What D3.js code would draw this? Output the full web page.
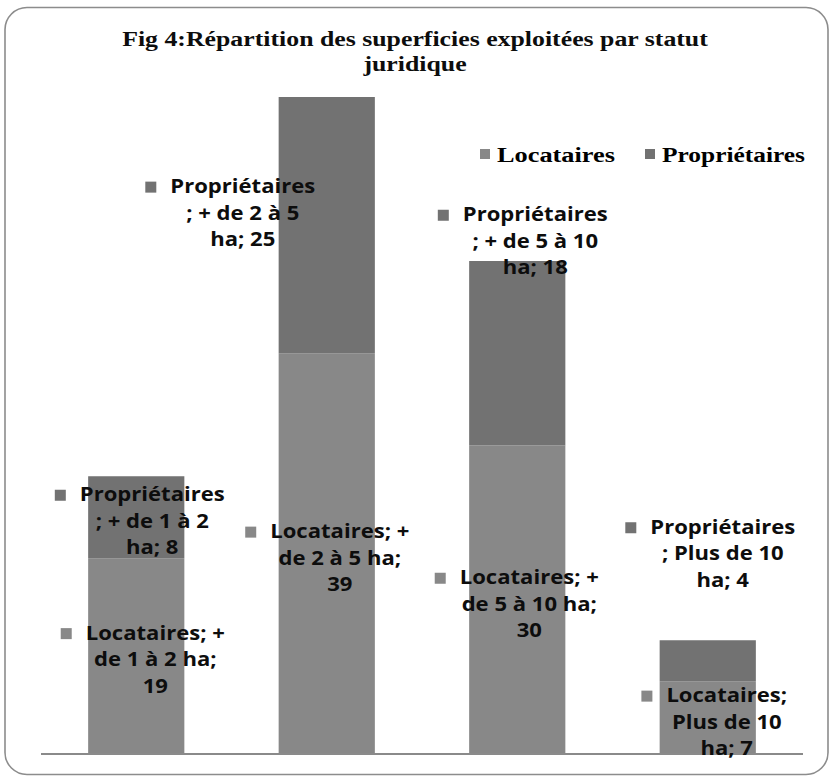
<!DOCTYPE html>
<html>
<head>
<meta charset="utf-8">
<script src="https://cdn.jsdelivr.net/npm/d3@7"></script>
<style>
  html, body { margin: 0; padding: 0; background: #fff; }
  svg { display: block; }
</style>
</head>
<body>
<script>
// Superficie classes and the two legal statuses, stacked per class
const categories = ["+ de 1 à 2 ha", "+ de 2 à 5 ha", "+ de 5 à 10 ha", "Plus de 10 ha"];
const locataires = [19, 39, 30, 7];
const proprietaires = [8, 25, 18, 4];
const seriesNames = ["Locataires", "Propriétaires"];
const titleLines = ["Fig 4:Répartition des superficies exploitées par statut", "juridique"];

// Data label text, line by line, as Excel wrapped them
const labelLines = {
  "Locataires": [
    ["Locataires; +", "de 1 à 2 ha;", "19"],
    ["Locataires; +", "de 2 à 5 ha;", "39"],
    ["Locataires; +", "de 5 à 10 ha;", "30"],
    ["Locataires;", "Plus de 10", "ha; 7"]
  ],
  "Propriétaires": [
    ["Propriétaires", "; + de 1 à 2", "ha; 8"],
    ["Propriétaires", "; + de 2 à 5", "ha; 25"],
    ["Propriétaires", "; + de 5 à 10", "ha; 18"],
    ["Propriétaires", "; Plus de 10", "ha; 4"]
  ]
};
// Offsets of each label block from its segment centre (px)
const labelOffsets = {
  "Locataires": [[19, 4], [13, 5], [12, 5], [19, 5]],
  "Propriétaires": [[16, 4], [-84, -12], [18, -112], [15, -107]]
};

const W = 831, H = 779;
const colors = { "Locataires": "#888888", "Propriétaires": "#727272" };
const serif = "'Liberation Serif', 'Times New Roman', serif";
const sans = "'Open Sans', 'Liberation Sans', sans-serif";

const svg = d3.select("body").append("svg").attr("width", W).attr("height", H);

// Rounded chart-area frame
svg.append("rect")
  .attr("x", 5).attr("y", 7.5).attr("width", 823).attr("height", 767)
  .attr("rx", 22).attr("ry", 22)
  .attr("fill", "#fff").attr("stroke", "#8c8c8c").attr("stroke-width", 1.6);

// Horizontally stretched text helper: stretch so the first line spans `target` px
function stretched(parent, cx, yTop, lines, font, size, weight, lineH, target) {
  const g = parent.append("g");
  const t = g.append("text")
    .attr("text-anchor", "middle")
    .style("font-family", font).style("font-weight", weight).style("font-size", size + "px")
    .attr("fill", "#0d0d0d");
  lines.forEach((ln, k) => t.append("tspan").attr("x", 0).attr("y", k * lineH).text(ln));
  const w0 = t.select("tspan").node().getComputedTextLength();
  const sx = target / w0;
  g.attr("transform", `translate(${cx},${yTop}) scale(${sx},1)`);
  return { sx, w: target };
}

// Title
stretched(svg, 415, 46, titleLines, serif, 21, "bold", 25, 586);

const baseY = 753;
const x = d3.scaleBand().domain(categories).range([41, 803]).paddingInner(0.495).paddingOuter(0.2475);
const y = d3.scaleLinear().domain([0, 64]).range([baseY, 97]);

const table = categories.map((c, i) => ({ cat: c, "Locataires": locataires[i], "Propriétaires": proprietaires[i] }));
const stacked = d3.stack().keys(seriesNames)(table);

svg.append("g").selectAll("g.series").data(stacked).join("g")
  .attr("class", "series")
  .attr("fill", d => colors[d.key])
  .selectAll("rect").data(d => d).join("rect")
  .attr("x", d => x(d.data.cat))
  .attr("width", x.bandwidth())
  .attr("y", d => y(d[1]))
  .attr("height", d => y(d[0]) - y(d[1]));

// Category axis line (no tick labels shown)
svg.append("line")
  .attr("x1", 41).attr("x2", 803).attr("y1", baseY + 1).attr("y2", baseY + 1)
  .attr("stroke", "#8a8a8a").attr("stroke-width", 2);

// Data labels with legend keys
const lineH = 26.5;
const labelSize = 19;
// stretch ratio measured on "Propriétaires" (145 px wide)
let labelScale = null;
{
  const probe = svg.append("text").style("font-family", sans).style("font-weight", "bold")
    .style("font-size", labelSize + "px").text("Propriétaires");
  labelScale = 145 / probe.node().getComputedTextLength();
  probe.remove();
}
stacked.forEach(s => {
  s.forEach((d, i) => {
    const lines = labelLines[s.key][i];
    const [dx, dy] = labelOffsets[s.key][i];
    const cx = x(d.data.cat) + x.bandwidth() / 2 + dx;
    const cy = (y(d[0]) + y(d[1])) / 2 + dy;
    const top = cy - lineH * (lines.length - 1) / 2;
    const g = svg.append("g").attr("transform", `translate(${cx},${top + 6.5}) scale(${labelScale},1)`);
    const t = g.append("text")
      .attr("text-anchor", "middle")
      .style("font-family", sans).style("font-weight", "bold").style("font-size", labelSize + "px")
      .attr("fill", "#0d0d0d");
    lines.forEach((ln, k) => t.append("tspan").attr("x", 0).attr("y", k * lineH).text(ln));
    const w = t.select("tspan").node().getComputedTextLength() * labelScale;
    svg.append("rect")
      .attr("x", cx - w / 2 - 25).attr("y", top - 5)
      .attr("width", 11).attr("height", 11)
      .attr("fill", colors[s.key]);
  });
});

// Legend
const legend = svg.append("g").attr("transform", "translate(480,149)");
const items = [{ k: "Locataires", x: 0, w: 118 }, { k: "Propriétaires", x: 165, w: 143 }];
items.forEach(it => {
  legend.append("rect").attr("x", it.x).attr("y", 0).attr("width", 10).attr("height", 10)
    .attr("fill", colors[it.k]);
  const g = legend.append("g");
  const t = g.append("text").attr("x", 0).attr("y", 0)
    .style("font-family", serif)
    .style("font-weight", "bold").style("font-size", "22px").attr("fill", "#000")
    .text(it.k);
  const sx = it.w / t.node().getComputedTextLength();
  g.attr("transform", `translate(${it.x + 17},13) scale(${sx},1)`);
});
</script>
</body>
</html>
